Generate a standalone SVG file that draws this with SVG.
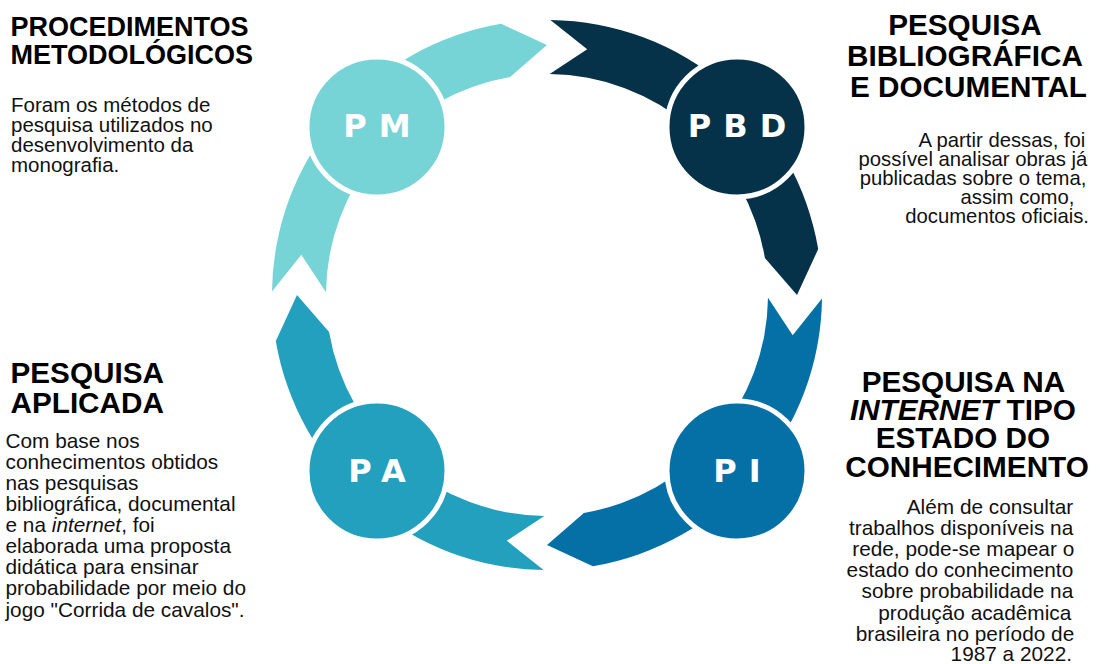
<svg xmlns="http://www.w3.org/2000/svg" xmlns:xlink="http://www.w3.org/1999/xlink" width="1100" height="664" viewBox="0 0 1100 664">
  <style>
    .title { font-family: "Liberation Sans", Arial, sans-serif; font-weight: 700; fill: #000; }
    .body { font-family: "Liberation Sans", Arial, sans-serif; font-weight: 400; fill: #111; }
    .badge { stroke: #fff; stroke-width: 5; }
    .badge-label { font-family: "DejaVu Sans", sans-serif; font-weight: 700; font-size: 32px; letter-spacing: 12px; fill: #fff; text-anchor: middle; }
  </style>
  <defs>
    <!-- one quarter of the cycle ring: notched tail at the top, pointed head at the right -->
    <path id="ring-arrow" d="M 550.4,20.0 A 275 275 0 0 1 818.2,249.1 L 797,295 L 764.9,258.1 A 221 221 0 0 0 549.7,74.0 L 587.2,49.3 Z"/>
  </defs>
  <rect width="1100" height="664" fill="#fff"/>

  <!-- cycle connectors, clockwise: PM -> PBD -> PI -> PA -> PM -->
  <g id="connectors">
    <use xlink:href="#ring-arrow" href="#ring-arrow" fill="#053248"/>
    <use xlink:href="#ring-arrow" href="#ring-arrow" fill="#0470A6" transform="rotate(90 547 295)"/>
    <use xlink:href="#ring-arrow" href="#ring-arrow" fill="#23A0BD" transform="rotate(180 547 295)"/>
    <use xlink:href="#ring-arrow" href="#ring-arrow" fill="#76D4D6" transform="rotate(270 547 295)"/>
  </g>

  <!-- Procedimentos metodológicos -->
  <g id="node-pm">
    <circle class="badge" cx="377" cy="127" r="70" fill="#76D4D6"/>
    <text class="badge-label" x="383" y="137">PM</text>
    <text class="title" font-size="27" x="10.5">
      <tspan x="10.5" y="36">PROCEDIMENTOS</tspan>
      <tspan x="10.5" y="63.5">METODOLÓGICOS</tspan>
    </text>
    <text class="body" font-size="20.5">
      <tspan x="11" y="111.7">Foram os métodos de</tspan>
      <tspan x="11" y="131.9">pesquisa utilizados no</tspan>
      <tspan x="11" y="152.1">desenvolvimento da</tspan>
      <tspan x="11" y="172.3">monografia.</tspan>
    </text>
  </g>

  <!-- Pesquisa bibliográfica e documental -->
  <g id="node-pbd">
    <circle class="badge" cx="737" cy="127" r="70" fill="#053248"/>
    <text class="badge-label" x="743" y="137">PBD</text>
    <text class="title" font-size="29.7" text-anchor="middle">
      <tspan x="968.5" y="34.5">PESQUISA</tspan>
      <tspan x="968.5" y="65.5">BIBLIOGRÁFICA</tspan>
      <tspan x="968.5" y="96.5">E DOCUMENTAL</tspan>
    </text>
    <text class="body" font-size="20.3" text-anchor="end">
      <tspan x="1091" y="147">A partir dessas, foi</tspan>
      <tspan x="1093" y="166">possível analisar obras já</tspan>
      <tspan x="1092" y="185">publicadas sobre o tema,</tspan>
      <tspan x="1080" y="204">assim como,</tspan>
      <tspan x="1089" y="223">documentos oficiais.</tspan>
    </text>
  </g>

  <!-- Pesquisa na internet tipo estado do conhecimento -->
  <g id="node-pi">
    <circle class="badge" cx="737" cy="471" r="70" fill="#0470A6"/>
    <text class="badge-label" x="743" y="481.5">PI</text>
    <text class="title" font-size="29.7" text-anchor="middle">
      <tspan x="967" y="391.7">PESQUISA NA</tspan>
      <tspan x="967" y="420"><tspan font-style="italic">INTERNET</tspan> TIPO</tspan>
      <tspan x="967" y="448.3">ESTADO DO</tspan>
      <tspan x="967" y="476.6">CONHECIMENTO</tspan>
    </text>
    <text class="body" font-size="20.8" text-anchor="end">
      <tspan x="1079" y="514">Além de consultar</tspan>
      <tspan x="1079" y="535.1">trabalhos disponíveis na</tspan>
      <tspan x="1080" y="556.2">rede, pode-se mapear o</tspan>
      <tspan x="1079" y="577.3">estado do conhecimento</tspan>
      <tspan x="1079" y="598.4">sobre probabilidade na</tspan>
      <tspan x="1077" y="619.5">produção acadêmica</tspan>
      <tspan x="1080" y="640.6">brasileira no período de</tspan>
      <tspan x="1072" y="661.2">1987 a 2022.</tspan>
    </text>
  </g>

  <!-- Pesquisa aplicada -->
  <g id="node-pa">
    <circle class="badge" cx="377" cy="471" r="70" fill="#23A0BD"/>
    <text class="badge-label" x="383" y="481.5">PA</text>
    <text class="title" font-size="29.7">
      <tspan x="10.5" y="382.7">PESQUISA</tspan>
      <tspan x="10.5" y="412.7">APLICADA</tspan>
    </text>
    <text class="body" font-size="20.8">
      <tspan x="5.5" y="447.7">Com base nos</tspan>
      <tspan x="5.5" y="468.8">conhecimentos obtidos</tspan>
      <tspan x="5.5" y="489.9">nas pesquisas</tspan>
      <tspan x="5.5" y="511">bibliográfica, documental</tspan>
      <tspan x="5.5" y="532.1">e na <tspan font-style="italic">internet</tspan>, foi</tspan>
      <tspan x="5.5" y="553.2">elaborada uma proposta</tspan>
      <tspan x="5.5" y="574.3">didática para ensinar</tspan>
      <tspan x="5.5" y="595.4">probabilidade por meio do</tspan>
      <tspan x="5.5" y="616.5">jogo "Corrida de cavalos".</tspan>
    </text>
  </g>
</svg>
